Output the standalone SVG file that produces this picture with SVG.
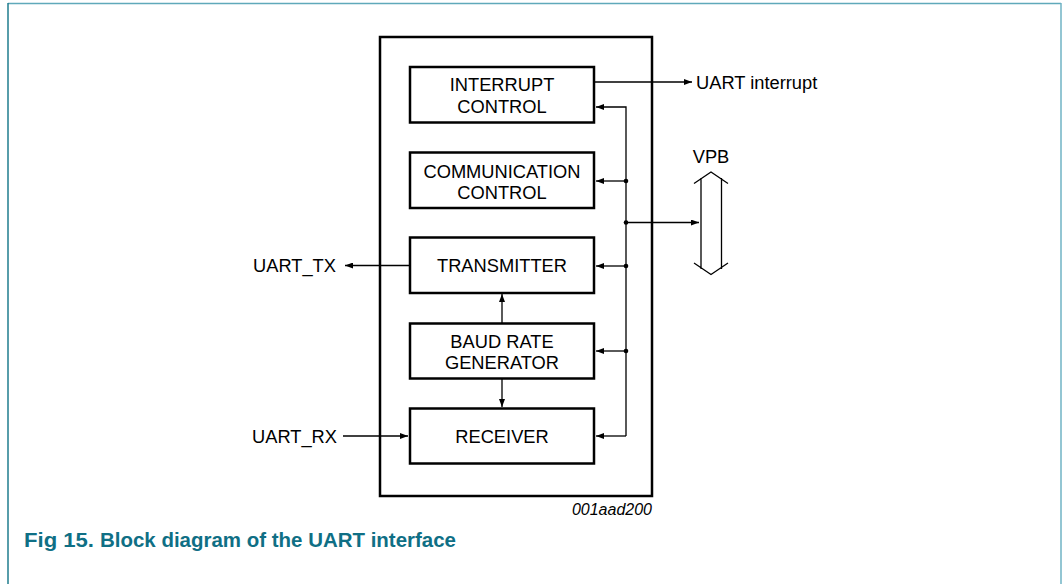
<svg xmlns="http://www.w3.org/2000/svg" width="1063" height="584" viewBox="0 0 1063 584">
<style>
.box{fill:#fff;stroke:#000;stroke-width:2.5}
.ln{fill:none;stroke:#000;stroke-width:1.3}
.t{font-family:"Liberation Sans",Arial,sans-serif;font-size:18.3px;fill:#000}
.c{text-anchor:middle}
</style>
<defs>
<marker id="ah" viewBox="0 0 8 6" refX="8" refY="3" markerWidth="8" markerHeight="6" markerUnits="userSpaceOnUse" orient="auto">
<path d="M0,0 L8,3 L0,6 Z" fill="#000"/>
</marker>
</defs>
<rect width="1063" height="584" fill="#fff"/>
<g id="frame">
<line x1="8" y1="3.5" x2="1061" y2="3.5" stroke="#5fa9ba" stroke-width="1.5"/>
<line x1="8" y1="3" x2="8" y2="584" stroke="#1f7c8e" stroke-width="1.5"/>
<line x1="1061" y1="3" x2="1061" y2="584" stroke="#6fb3c4" stroke-width="1.5"/>
</g>
<g id="uart">
<rect class="box" x="380" y="37" width="272" height="459"/>
</g>
<g id="connectors">
<line class="ln" x1="594" y1="82" x2="692" y2="82" marker-end="url(#ah)"/>
<polyline class="ln" points="626,436 626,107 596,107" marker-end="url(#ah)"/>
<line class="ln" x1="626" y1="181" x2="596" y2="181" marker-end="url(#ah)"/>
<line class="ln" x1="626" y1="266" x2="596" y2="266" marker-end="url(#ah)"/>
<line class="ln" x1="626" y1="351" x2="596" y2="351" marker-end="url(#ah)"/>
<line class="ln" x1="626" y1="436" x2="596" y2="436" marker-end="url(#ah)"/>
<line class="ln" x1="626" y1="222.5" x2="699" y2="222.5" marker-end="url(#ah)"/>
<circle cx="626" cy="181" r="2.3"/>
<circle cx="626" cy="222.5" r="2.3"/>
<circle cx="626" cy="266" r="2.3"/>
<circle cx="626" cy="351" r="2.3"/>
<line class="ln" x1="409" y1="265.5" x2="345" y2="265.5" marker-end="url(#ah)"/>
<line class="ln" x1="343" y1="436" x2="408" y2="436" marker-end="url(#ah)"/>
<line class="ln" x1="502" y1="323" x2="502" y2="294" marker-end="url(#ah)"/>
<line class="ln" x1="502" y1="379" x2="502" y2="407" marker-end="url(#ah)"/>
</g>
<g id="vpb">
<path class="ln" d="M694,183.5 L711,172 L728,183.5 M694,263 L711,274.5 L728,263 M701,178 L701,269 M721.5,178 L721.5,269"/>
<text class="t c" x="711" y="163">VPB</text>
</g>
<g id="interrupt-control">
<rect class="box" x="410" y="67" width="184" height="55.5"/>
<text class="t c" x="502" y="91">INTERRUPT</text>
<text class="t c" x="502" y="112.5">CONTROL</text>
</g>
<g id="communication-control">
<rect class="box" x="410" y="152.5" width="184" height="55.5"/>
<text class="t c" x="502" y="177.5">COMMUNICATION</text>
<text class="t c" x="502" y="198.5">CONTROL</text>
</g>
<g id="transmitter">
<rect class="box" x="410" y="237.5" width="184" height="55.5"/>
<text class="t c" x="502" y="272">TRANSMITTER</text>
</g>
<g id="baud-rate-generator">
<rect class="box" x="410" y="323.5" width="184" height="55"/>
<text class="t c" x="502" y="347.5">BAUD RATE</text>
<text class="t c" x="502" y="369">GENERATOR</text>
</g>
<g id="receiver">
<rect class="box" x="410" y="408.5" width="184" height="55"/>
<text class="t c" x="502" y="443">RECEIVER</text>
</g>
<g id="labels">
<text class="t" x="696" y="89">UART interrupt</text>
<text class="t" x="253" y="272">UART_TX</text>
<text class="t" x="252" y="442.5">UART_RX</text>
<text class="t" x="652" y="515" text-anchor="end" style="font-size:16px;font-style:italic">001aad200</text>
</g>
<g id="caption" style="font-family:'Liberation Sans',Arial,sans-serif;font-weight:bold;font-size:20.5px;fill:#0f6f85">
<text x="24" y="547" textLength="70" lengthAdjust="spacingAndGlyphs">Fig 15.</text>
<text x="100" y="547" textLength="356" lengthAdjust="spacingAndGlyphs">Block diagram of the UART interface</text>
</g>
</svg>
